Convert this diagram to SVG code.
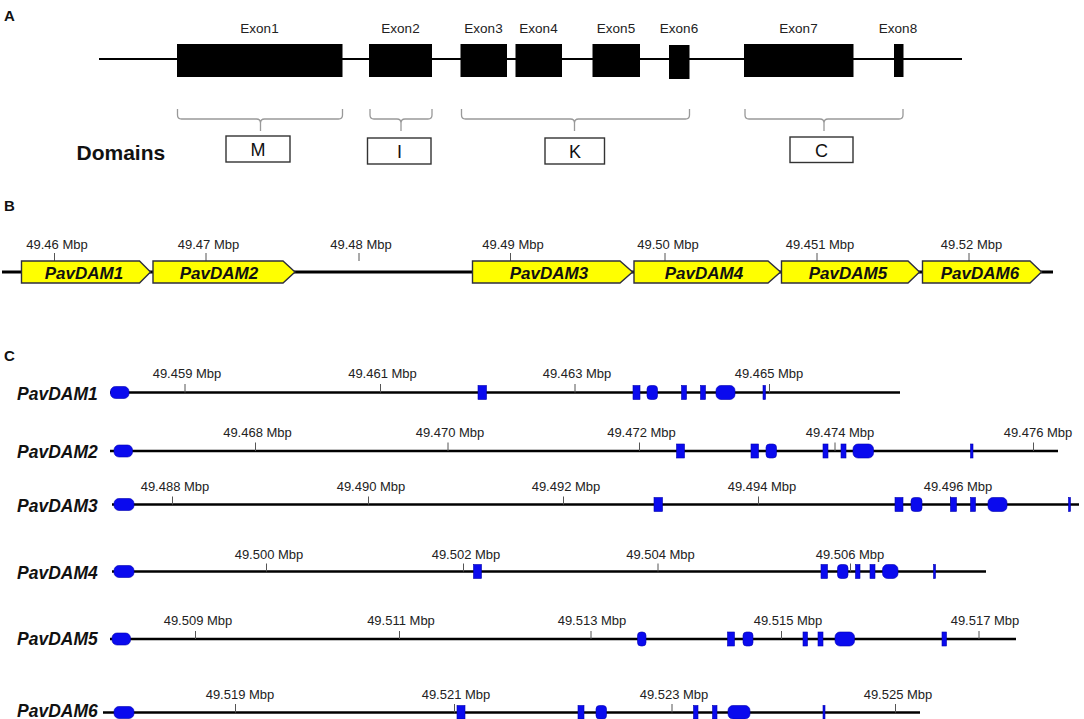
<svg xmlns="http://www.w3.org/2000/svg" width="1084" height="719" viewBox="0 0 1084 719">
<style>
text{font-family:"Liberation Sans",Arial,sans-serif}
.pl{font-size:15px;font-weight:bold;fill:#111}
.ex{font-size:13.5px;fill:#222;text-anchor:middle}
.exon{fill:#000}
.bb{stroke:#000;stroke-width:2;fill:none}
.br{stroke:#999;stroke-width:1.3;fill:none}
.dbox{fill:#fff;stroke:#333;stroke-width:1.4}
.dt{font-size:18px;fill:#111;text-anchor:middle}
.dom{font-size:21px;font-weight:bold;fill:#111}
.ax{stroke:#000;stroke-width:3;fill:none}
.axc{stroke:#000;stroke-width:2.5;fill:none}
.tk{stroke:#555;stroke-width:1}
.tl{font-size:13px;fill:#222;text-anchor:middle}
.arr{fill:#ffff00;stroke:#2e2e3e;stroke-width:1.4}
.gn{font-size:17px;font-weight:bold;font-style:italic;fill:#111;text-anchor:middle}
.rl{font-size:17.5px;font-weight:bold;font-style:italic;fill:#111}
.be{fill:#0a0aee;stroke:#0000b0;stroke-width:0.6}
</style>

<!-- Panel A -->
<g id="panelA">
<text class="pl" x="4" y="20.5">A</text>
<g id="connectors-A">
<line class="bb" x1="99" y1="59" x2="962" y2="59"/>
</g>
<g id="exon1"><rect class="exon" x="177" y="44" width="165.5" height="33"/><text class="ex" x="259.5" y="32.5">Exon1</text></g>
<g id="exon2"><rect class="exon" x="369" y="44" width="63" height="33"/><text class="ex" x="400.5" y="32.5">Exon2</text></g>
<g id="exon3"><rect class="exon" x="460.5" y="44" width="46.5" height="33"/><text class="ex" x="483.5" y="32.5">Exon3</text></g>
<g id="exon4"><rect class="exon" x="515.5" y="44" width="46.5" height="33"/><text class="ex" x="538.5" y="32.5">Exon4</text></g>
<g id="exon5"><rect class="exon" x="592.5" y="44" width="47.5" height="33"/><text class="ex" x="616" y="32.5">Exon5</text></g>
<g id="exon6"><rect class="exon" x="669" y="45" width="20.5" height="34"/><text class="ex" x="679" y="32.5">Exon6</text></g>
<g id="exon7"><rect class="exon" x="744" y="44" width="109.5" height="33"/><text class="ex" x="798.5" y="32.5">Exon7</text></g>
<g id="exon8"><rect class="exon" x="894" y="44" width="9.5" height="33"/><text class="ex" x="898" y="32.5">Exon8</text></g>

<g id="brackets">
<path class="br" d="M177.5 109 v6 q0 4 4 4 h75 q4 0 4 4 v8 M260.5 123 q0 -4 4 -4 h74 q4 0 4 -4 v-6"/>
<path class="br" d="M370 109 v6 q0 4 4 4 h23 q4 0 4 4 v8 M401 123 q0 -4 4 -4 h23 q4 0 4 -4 v-6"/>
<path class="br" d="M461.5 109 v6 q0 4 4 4 h105 q4 0 4 4 v8 M574.5 123 q0 -4 4 -4 h107 q4 0 4 -4 v-6"/>
<path class="br" d="M745 109 v6 q0 4 4 4 h71 q4 0 4 4 v8 M824 123 q0 -4 4 -4 h71 q4 0 4 -4 v-6"/>
</g>
<text class="dom" x="76.5" y="159.5">Domains</text>
<g id="domainM"><rect class="dbox" x="226" y="136" width="64" height="26"/><text class="dt" x="258" y="155.5">M</text></g>
<g id="domainI"><rect class="dbox" x="367.5" y="138" width="63.5" height="26"/><text class="dt" x="399.5" y="157.5">I</text></g>
<g id="domainK"><rect class="dbox" x="545" y="138" width="59.5" height="26"/><text class="dt" x="575" y="157.5">K</text></g>
<g id="domainC"><rect class="dbox" x="790" y="137" width="63" height="25.5"/><text class="dt" x="821.5" y="156.5">C</text></g>
</g>

<!-- Panel B -->
<g id="panelB">
<text class="pl" x="4" y="210.5">B</text>
<g id="connectors-B"><line class="ax" x1="2" y1="272" x2="1053" y2="272"/></g>
<g id="ticksB">
<line class="tk" x1="54.5" y1="253" x2="54.5" y2="261"/><text class="tl" x="57" y="248.5">49.46 Mbp</text>
<line class="tk" x1="206" y1="253" x2="206" y2="261"/><text class="tl" x="208.5" y="248.5">49.47 Mbp</text>
<line class="tk" x1="359" y1="253" x2="359" y2="261"/><text class="tl" x="361" y="248.5">49.48 Mbp</text>
<line class="tk" x1="510.5" y1="253" x2="510.5" y2="261"/><text class="tl" x="513" y="248.5">49.49 Mbp</text>
<line class="tk" x1="665" y1="253" x2="665" y2="261"/><text class="tl" x="668" y="248.5">49.50 Mbp</text>
<line class="tk" x1="817" y1="253" x2="817" y2="261"/><text class="tl" x="820" y="248.5">49.451 Mbp</text>
<line class="tk" x1="969" y1="253" x2="969" y2="261"/><text class="tl" x="971.5" y="248.5">49.52 Mbp</text>
</g>
<g id="bPavDAM1"><path class="arr" d="M21.5 261 H139.5 L150.5 272 L139.5 283 H21.5 Z"/><text class="gn" x="84" y="278.5">PavDAM1</text></g>
<g id="bPavDAM2"><path class="arr" d="M153 261 H283 L295 272 L283 283 H153 Z"/><text class="gn" x="219" y="278.5">PavDAM2</text></g>
<g id="bPavDAM3"><path class="arr" d="M472.5 261 H620 L632.5 272 L620 283 H472.5 Z"/><text class="gn" x="549" y="278.5">PavDAM3</text></g>
<g id="bPavDAM4"><path class="arr" d="M634 261 H768 L780.5 272 L768 283 H634 Z"/><text class="gn" x="704" y="278.5">PavDAM4</text></g>
<g id="bPavDAM5"><path class="arr" d="M781.5 261 H908 L919.5 272 L908 283 H781.5 Z"/><text class="gn" x="848" y="278.5">PavDAM5</text></g>
<g id="bPavDAM6"><path class="arr" d="M922.5 261 H1030 L1041.5 272 L1030 283 H922.5 Z"/><text class="gn" x="980" y="278.5">PavDAM6</text></g>
</g>

<!-- Panel C -->
<g id="panelC">
<text class="pl" x="4" y="361">C</text>

<g id="connectors-C">
<line class="axc" x1="110" y1="392.5" x2="900" y2="392.5"/>
<line class="axc" x1="110" y1="451" x2="1058" y2="451"/>
<line class="axc" x1="112" y1="504.5" x2="1079" y2="504.5"/>
<line class="axc" x1="112" y1="571.5" x2="986" y2="571.5"/>
<line class="axc" x1="110" y1="639" x2="1016" y2="639"/>
<line class="axc" x1="103" y1="712.5" x2="920" y2="712.5"/>
</g>

<g id="cPavDAM1">
<text class="rl" x="17" y="399.5">PavDAM1</text>
<line class="tk" x1="185" y1="384" x2="185" y2="392.5"/><text class="tl" x="187" y="378">49.459 Mbp</text>
<line class="tk" x1="380.5" y1="384" x2="380.5" y2="392.5"/><text class="tl" x="382.5" y="378">49.461 Mbp</text>
<line class="tk" x1="575" y1="384" x2="575" y2="392.5"/><text class="tl" x="577" y="378">49.463 Mbp</text>
<line class="tk" x1="769.5" y1="384" x2="769.5" y2="392.5"/><text class="tl" x="769" y="378">49.465 Mbp</text>
<rect class="be" x="110.5" y="386.5" width="18.5" height="12" rx="5"/>
<rect class="be" x="478" y="385.5" width="8.5" height="14"/>
<rect class="be" x="633" y="385.5" width="7" height="14"/>
<rect class="be" x="647" y="385.5" width="10.5" height="14" rx="3.5"/>
<rect class="be" x="681.5" y="385.5" width="5" height="14"/>
<rect class="be" x="700.5" y="385.5" width="5" height="14"/>
<rect class="be" x="716" y="385.5" width="19" height="14" rx="5"/>
<rect class="be" x="763" y="385.5" width="2.5" height="14"/>
</g>

<g id="cPavDAM2">
<text class="rl" x="17" y="458">PavDAM2</text>
<line class="tk" x1="255.5" y1="442.5" x2="255.5" y2="451"/><text class="tl" x="257.5" y="437">49.468 Mbp</text>
<line class="tk" x1="448" y1="442.5" x2="448" y2="451"/><text class="tl" x="450" y="437">49.470 Mbp</text>
<line class="tk" x1="639.5" y1="442.5" x2="639.5" y2="451"/><text class="tl" x="641.5" y="437">49.472 Mbp</text>
<line class="tk" x1="835" y1="442.5" x2="835" y2="451"/><text class="tl" x="840" y="437">49.474 Mbp</text>
<line class="tk" x1="1033.5" y1="442.5" x2="1033.5" y2="451"/><text class="tl" x="1038" y="437">49.476 Mbp</text>
<rect class="be" x="114" y="445" width="18.5" height="12" rx="5"/>
<rect class="be" x="676.5" y="444" width="8" height="14"/>
<rect class="be" x="751" y="444" width="7.5" height="14"/>
<rect class="be" x="766" y="444" width="10.5" height="14" rx="3.5"/>
<rect class="be" x="823" y="444" width="5" height="14"/>
<rect class="be" x="841" y="444" width="5" height="14"/>
<rect class="be" x="853" y="444" width="20.5" height="14" rx="5"/>
<rect class="be" x="970.5" y="444" width="2.5" height="14"/>
</g>

<g id="cPavDAM3">
<text class="rl" x="17" y="511.5">PavDAM3</text>
<line class="tk" x1="172.5" y1="496.5" x2="172.5" y2="504.5"/><text class="tl" x="175" y="491">49.488 Mbp</text>
<line class="tk" x1="368.5" y1="496.5" x2="368.5" y2="504.5"/><text class="tl" x="371" y="491">49.490 Mbp</text>
<line class="tk" x1="563.5" y1="496.5" x2="563.5" y2="504.5"/><text class="tl" x="566" y="491">49.492 Mbp</text>
<line class="tk" x1="758.5" y1="496.5" x2="758.5" y2="504.5"/><text class="tl" x="762" y="491">49.494 Mbp</text>
<line class="tk" x1="950.5" y1="496.5" x2="950.5" y2="504.5"/><text class="tl" x="958" y="491">49.496 Mbp</text>
<rect class="be" x="114" y="498.5" width="20" height="12" rx="5"/>
<rect class="be" x="654" y="497.5" width="8.5" height="14"/>
<rect class="be" x="895" y="497.5" width="8" height="14"/>
<rect class="be" x="911" y="497.5" width="11" height="14" rx="3.5"/>
<rect class="be" x="950.5" y="497.5" width="6" height="14"/>
<rect class="be" x="970.5" y="497.5" width="5" height="14"/>
<rect class="be" x="988" y="497.5" width="19" height="14" rx="5"/>
<rect class="be" x="1068.5" y="497.5" width="2" height="14"/>
</g>

<g id="cPavDAM4">
<text class="rl" x="17" y="578.5">PavDAM4</text>
<line class="tk" x1="266.5" y1="563.5" x2="266.5" y2="571.5"/><text class="tl" x="269" y="558.5">49.500 Mbp</text>
<line class="tk" x1="463.5" y1="563.5" x2="463.5" y2="571.5"/><text class="tl" x="466" y="558.5">49.502 Mbp</text>
<line class="tk" x1="658" y1="563.5" x2="658" y2="571.5"/><text class="tl" x="660.5" y="558.5">49.504 Mbp</text>
<line class="tk" x1="850.5" y1="563.5" x2="850.5" y2="571.5"/><text class="tl" x="850" y="558.5">49.506 Mbp</text>
<rect class="be" x="114" y="565.5" width="20" height="12" rx="5"/>
<rect class="be" x="473.5" y="564.5" width="8" height="14"/>
<rect class="be" x="821" y="564.5" width="6.5" height="14"/>
<rect class="be" x="837.5" y="564.5" width="10.5" height="14" rx="3.5"/>
<rect class="be" x="855.5" y="564.5" width="4.5" height="14"/>
<rect class="be" x="870" y="564.5" width="5" height="14"/>
<rect class="be" x="882.5" y="564.5" width="15.5" height="14" rx="5"/>
<rect class="be" x="933.5" y="564.5" width="2" height="14"/>
</g>

<g id="cPavDAM5">
<text class="rl" x="17" y="645">PavDAM5</text>
<line class="tk" x1="195.5" y1="631" x2="195.5" y2="639"/><text class="tl" x="198" y="624.5">49.509 Mbp</text>
<line class="tk" x1="399.5" y1="631" x2="399.5" y2="639"/><text class="tl" x="401" y="624.5">49.511 Mbp</text>
<line class="tk" x1="591" y1="631" x2="591" y2="639"/><text class="tl" x="592" y="624.5">49.513 Mbp</text>
<line class="tk" x1="781.5" y1="631" x2="781.5" y2="639"/><text class="tl" x="788" y="624.5">49.515 Mbp</text>
<line class="tk" x1="979" y1="631" x2="979" y2="639"/><text class="tl" x="985" y="624.5">49.517 Mbp</text>
<rect class="be" x="112" y="633" width="18.5" height="12" rx="5"/>
<rect class="be" x="637.5" y="632" width="8.5" height="14" rx="3.5"/>
<rect class="be" x="727.5" y="632" width="7" height="14"/>
<rect class="be" x="743" y="632" width="10" height="14" rx="3.5"/>
<rect class="be" x="803" y="632" width="4.5" height="14"/>
<rect class="be" x="818" y="632" width="5" height="14"/>
<rect class="be" x="835" y="632" width="19.5" height="14" rx="5"/>
<rect class="be" x="942" y="632" width="4.5" height="14"/>
</g>

<g id="cPavDAM6">
<text class="rl" x="17" y="716.5">PavDAM6</text>
<line class="tk" x1="235.5" y1="704" x2="235.5" y2="712.5"/><text class="tl" x="240" y="699">49.519 Mbp</text>
<line class="tk" x1="454.5" y1="704" x2="454.5" y2="712.5"/><text class="tl" x="456" y="699">49.521 Mbp</text>
<line class="tk" x1="672" y1="704" x2="672" y2="712.5"/><text class="tl" x="674" y="699">49.523 Mbp</text>
<line class="tk" x1="895.5" y1="704" x2="895.5" y2="712.5"/><text class="tl" x="898" y="699">49.525 Mbp</text>
<rect class="be" x="114" y="706.5" width="20" height="12" rx="5"/>
<rect class="be" x="457" y="705.5" width="8" height="13.5"/>
<rect class="be" x="578" y="705.5" width="6" height="13.5"/>
<rect class="be" x="596" y="705.5" width="10.5" height="13.5" rx="3.5"/>
<rect class="be" x="693.5" y="705.5" width="4.5" height="13.5"/>
<rect class="be" x="712.5" y="705.5" width="4.5" height="13.5"/>
<rect class="be" x="728" y="705.5" width="22" height="13.5" rx="5"/>
<rect class="be" x="823" y="705.5" width="2" height="13.5"/>
</g>
</g>
</svg>
